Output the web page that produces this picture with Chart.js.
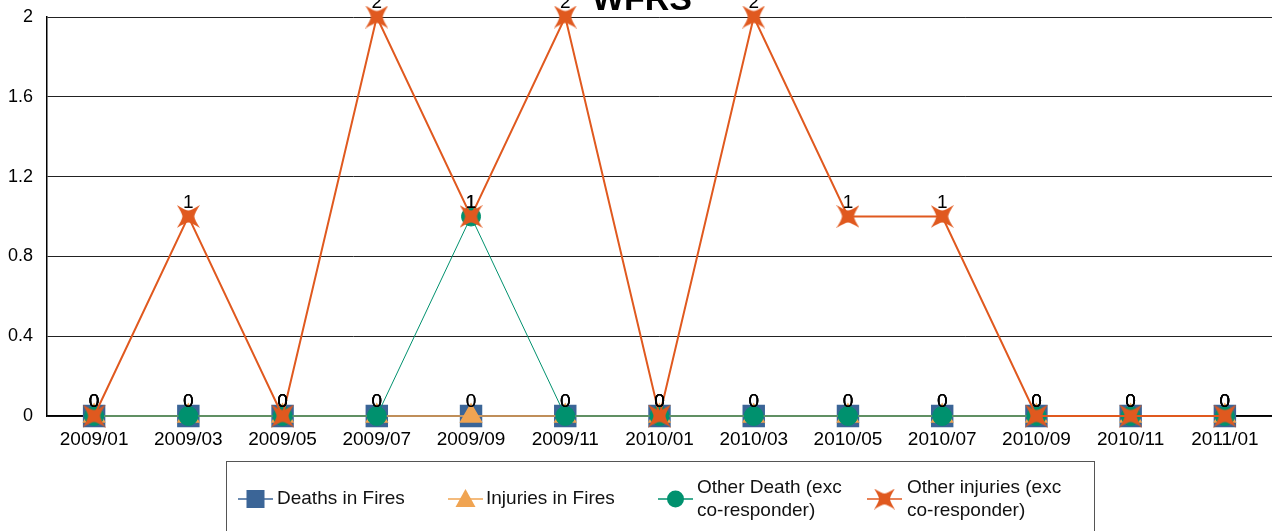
<!DOCTYPE html>
<html>
<head>
<meta charset="utf-8">
<script src="https://cdn.jsdelivr.net/npm/chart.js@4.4.0/dist/chart.umd.min.js"></script>
<style>
  html, body { margin: 0; padding: 0; background: #fff; overflow: hidden; }
  #box { width: 1272px; height: 531px; position: relative; }
  canvas { display: block; }
</style>
</head>
<body>
<div id="box"><canvas id="myChart" width="1272" height="531"></canvas></div>
<script>
const months = ['2009/01', '2009/03', '2009/05', '2009/07', '2009/09', '2009/11', '2010/01',
    '2010/03', '2010/05', '2010/07', '2010/09', '2010/11', '2011/01']
const deathsInFires = [0, 0, 0, 0, 0, 0, 0, 0, 0, 0, 0, 0, 0]
const injuriesInFires = [0, 0, 0, 0, 0, 0, 0, 0, 0, 0, 0, 0, 0]
const otherDeath = [0, 0, 0, 0, 1, 0, 0, 0, 0, 0, 0, 0, 0]
const otherInjuries = [0, 1, 0, 2, 1, 2, 0, 2, 1, 1, 0, 0, 0]
const yTicks = [0, 0.4, 0.8, 1.2, 1.6, 2]

const blue = '#3b6597'
const lightOrange = '#f0a452'
const green = '#00916e'
const darkOrange = '#e0591f'
const font = '"Liberation Sans", Arial, sans-serif'

// 4 pointed star, tips on the diagonals
function makeStarX(size, color) {
    let c = document.createElement('canvas')
    c.width = size
    c.height = size
    let g = c.getContext('2d')
    let m = size / 2
    let t = size / 2        // tip offset
    let k = size * 0.2      // waist
    g.fillStyle = color
    g.beginPath()
    g.moveTo(m - t, m - t)
    g.quadraticCurveTo(m - k * 0.6, m - k * 1.3, m, m - k * 1.3)
    g.quadraticCurveTo(m + k * 0.6, m - k * 1.3, m + t, m - t)
    g.quadraticCurveTo(m + k * 1.3, m - k * 0.6, m + k * 1.3, m)
    g.quadraticCurveTo(m + k * 1.3, m + k * 0.6, m + t, m + t)
    g.quadraticCurveTo(m + k * 0.6, m + k * 1.3, m, m + k * 1.3)
    g.quadraticCurveTo(m - k * 0.6, m + k * 1.3, m - t, m + t)
    g.quadraticCurveTo(m - k * 1.3, m + k * 0.6, m - k * 1.3, m)
    g.quadraticCurveTo(m - k * 1.3, m - k * 0.6, m - t, m - t)
    g.closePath()
    g.fill()
    return c
}
const starImg = makeStarX(23, darkOrange)
const starLegend = makeStarX(21, darkOrange)

const legendItems = [
    { text: ['Deaths in Fires'], color: blue, style: 'rect', x: 238, textX: 277 },
    { text: ['Injuries in Fires'], color: lightOrange, style: 'triangle', x: 448, textX: 486 },
    { text: ['Other Death (exc', 'co-responder)'], color: green, style: 'circle', x: 658, textX: 697 },
    { text: ['Other injuries (exc', 'co-responder)'], color: darkOrange, style: 'star', x: 867, textX: 907 }
]

const extras = {
    id: 'extras',
    afterDatasetsDraw(chart) {
        let ctx = chart.ctx
        ctx.save()
        // value labels over every point
        ctx.font = '19px ' + font
        ctx.fillStyle = '#000'
        ctx.textAlign = 'center'
        ctx.textBaseline = 'middle'
        chart.data.datasets.forEach((ds, i) => {
            let meta = chart.getDatasetMeta(i)
            meta.data.forEach((pt, j) => {
                ctx.fillText(String(ds.data[j]), pt.x, pt.y - 14)
            })
        })
        // title, cut off at the top like the original
        ctx.font = 'bold 34px ' + font
        ctx.fillText('WFRS', 642, 1)
        ctx.restore()
    },
    afterDraw(chart) {
        let ctx = chart.ctx
        ctx.save()
        ctx.strokeStyle = '#555'
        ctx.lineWidth = 1
        ctx.strokeRect(226.5, 461.5, 868, 100)
        ctx.font = '19px ' + font
        ctx.textBaseline = 'middle'
        ctx.textAlign = 'left'
        let cy = 499
        for (let item of legendItems) {
            ctx.strokeStyle = item.color
            ctx.lineWidth = 1.5
            ctx.beginPath()
            ctx.moveTo(item.x, cy)
            ctx.lineTo(item.x + 35, cy)
            ctx.stroke()
            let mx = item.x + 17.5
            ctx.fillStyle = item.color
            if (item.style == 'rect') {
                ctx.fillRect(mx - 9, cy - 9, 18, 18)
            } else if (item.style == 'triangle') {
                ctx.beginPath()
                ctx.moveTo(mx, cy - 10)
                ctx.lineTo(mx + 10, cy + 8)
                ctx.lineTo(mx - 10, cy + 8)
                ctx.closePath()
                ctx.fill()
            } else if (item.style == 'circle') {
                ctx.beginPath()
                ctx.arc(mx, cy, 8.5, 0, Math.PI * 2)
                ctx.fill()
            } else {
                ctx.drawImage(starLegend, mx - 10.5, cy - 10.5)
            }
            ctx.fillStyle = '#111'
            if (item.text.length == 1) {
                ctx.fillText(item.text[0], item.textX, cy)
            } else {
                ctx.fillText(item.text[0], item.textX, cy - 11)
                ctx.fillText(item.text[1], item.textX, cy + 12)
            }
        }
        ctx.restore()
    }
}

const ctx = document.getElementById('myChart').getContext('2d')
const myChart = new Chart(ctx, {
    type: 'line',
    data: {
        labels: months,
        datasets: [{
            label: 'Deaths in Fires',
            data: deathsInFires,
            borderColor: blue,
            backgroundColor: blue,
            borderWidth: 1.5,
            pointStyle: 'rect',
            pointRadius: 14.8,
            order: 4
        }, {
            label: 'Injuries in Fires',
            data: injuriesInFires,
            borderColor: lightOrange,
            backgroundColor: lightOrange,
            borderWidth: 1.5,
            pointStyle: 'triangle',
            pointRadius: 12,
            order: 3
        }, {
            label: 'Other Death (exc co-responder)',
            data: otherDeath,
            borderColor: green,
            backgroundColor: green,
            borderWidth: 1,
            pointStyle: 'circle',
            pointRadius: 9.5,
            order: 2
        }, {
            label: 'Other injuries (exc co-responder)',
            data: otherInjuries,
            borderColor: darkOrange,
            backgroundColor: darkOrange,
            borderWidth: 2,
            pointStyle: starImg,
            pointRadius: 11,
            order: 1
        }]
    },
    options: {
        responsive: false,
        animation: false,
        clip: false,
        layout: { autoPadding: false, padding: { top: 17, right: 0, left: 0, bottom: 0 } },
        elements: {
            line: { tension: 0 },
            point: { borderWidth: 0, hoverRadius: 10 }
        },
        plugins: {
            legend: { display: false },
            title: { display: false },
            tooltip: { enabled: false }
        },
        scales: {
            x: {
                offset: true,
                grid: { display: false, drawTicks: false },
                border: { color: '#000', width: 1.5 },
                ticks: { color: '#000', font: { family: font, size: 19 }, padding: 12, maxRotation: 0, autoSkip: false },
                afterFit: scale => {
                    scale.height = 115
                    scale.paddingLeft = 0
                    scale.paddingRight = 0
                }
            },
            y: {
                min: 0,
                max: 2,
                afterBuildTicks: scale => { scale.ticks = yTicks.map(v => ({ value: v })) },
                grid: { color: '#222', lineWidth: 1, drawTicks: false },
                border: { color: '#000', width: 1.5 },
                ticks: {
                    color: '#000',
                    font: { family: font, size: 18 },
                    padding: 14,
                    callback: v => String(Math.round(v * 10) / 10)
                },
                afterFit: scale => {
                    scale.width = 47
                    scale.paddingTop = 0
                    scale.paddingBottom = 0
                }
            }
        }
    },
    plugins: [extras]
})
</script>
</body>
</html>
